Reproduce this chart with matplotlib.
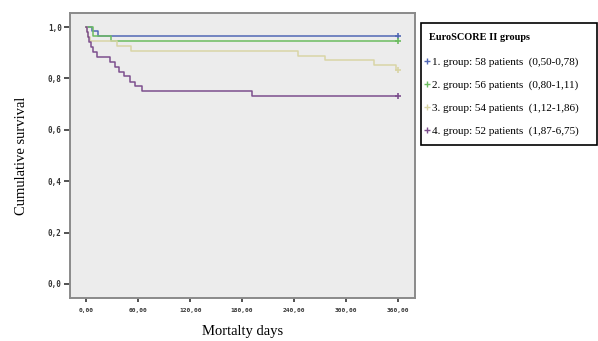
import matplotlib.pyplot as plt
from matplotlib.lines import Line2D
from matplotlib.patches import Rectangle

# Kaplan-Meier steps (days, cumulative survival)
g1_days = [0, 7, 13, 360]
g1_surv = [1.0, 0.983, 0.966, 0.966]

g2_days = [0, 8, 29, 360]
g2_surv = [1.0, 0.964, 0.946, 0.946]

g3_days = [0, 1, 2, 4, 35, 52, 245, 276, 332, 358, 360]
g3_surv = [1.0, 0.981, 0.963, 0.944, 0.926, 0.907, 0.889, 0.870, 0.852, 0.833, 0.833]

g4_days = [0, 1, 2, 3, 5, 8, 12, 27, 33, 38, 44, 50, 56, 64, 191, 360]
g4_surv = [1.0, 0.981, 0.962, 0.942, 0.923, 0.904, 0.885, 0.865, 0.846, 0.827,
           0.808, 0.788, 0.769, 0.750, 0.731, 0.731]

labels = ['1. group: 58 patients  (0,50-0,78)',
          '2. group: 56 patients  (0,80-1,11)',
          '3. group: 54 patients  (1,12-1,86)',
          '4. group: 52 patients  (1,87-6,75)']
colors = ['#5268b4', '#6cbc60', '#d9d5a6', '#7d4f8e']

x_ticks = [0, 60, 120, 180, 240, 300, 360]
x_ticklabels = ['0,00', '60,00', '120,00', '180,00', '240,00', '300,00', '360,00']
y_ticks = [0.0, 0.2, 0.4, 0.6, 0.8, 1.0]
y_ticklabels = ['0,0', '0,2', '0,4', '0,6', '0,8', '1,0']

fig = plt.figure(figsize=(5.98, 3.41), dpi=100)
ax = fig.add_axes([0.117, 0.126, 0.577, 0.836])
ax.set_facecolor('#ececec')

groups = [(g1_days, g1_surv), (g2_days, g2_surv), (g3_days, g3_surv), (g4_days, g4_surv)]
for (d, s), c in zip(groups, colors):
    ax.step(d, s, where='post', color=c, lw=1.1)
    ax.plot(d[-1], s[-1], marker='+', color=c, ms=5, mew=1.2)

ax.set_xlim(-19, 380)
ax.set_ylim(-0.055, 1.055)
ax.set_xticks(x_ticks)
ax.set_xticklabels(x_ticklabels, fontsize=4.5, family='DejaVu Sans Mono', fontweight='bold', color='#333333')
ax.set_yticks(y_ticks)
ax.set_yticklabels(y_ticklabels, fontsize=5.5, family='DejaVu Sans Mono', fontweight='bold', color='#333333')
ax.tick_params(axis='y', length=4, width=1.2, color='#333333', pad=2)
ax.tick_params(axis='x', length=3, width=1.2, color='#333333', pad=4)
for sp in ax.spines.values():
    sp.set_color('#8a8a8a')
    sp.set_linewidth(1.4)

ax.set_ylabel('Cumulative survival', family='Liberation Serif', fontsize=10.5, labelpad=14)
ax.set_xlabel('Mortalty days', family='Liberation Serif', fontsize=10.5, labelpad=9)

# legend box on the right
fig.patches.append(Rectangle((421 / 598, 1 - 145 / 341), 176 / 598, 122 / 341,
                             transform=fig.transFigure, fill=False, ec='black', lw=1.2))
fig.text(429 / 598, 1 - 38 / 341, 'EuroSCORE II groups', family='Liberation Serif',
         fontsize=7.4, fontweight='bold', va='center')
handles = [Line2D([], [], ls='none', marker='+', color=c, ms=5, mew=1) for c in colors]
leg = fig.legend(handles, labels, loc='upper left', bbox_to_anchor=(419 / 598, 1 - 53 / 341),
                 frameon=False, handlelength=0.6, handletextpad=0.2, labelspacing=1.15,
                 prop={'family': 'Liberation Serif', 'size': 8}, borderaxespad=0)

fig.savefig('out.png', dpi=100)
